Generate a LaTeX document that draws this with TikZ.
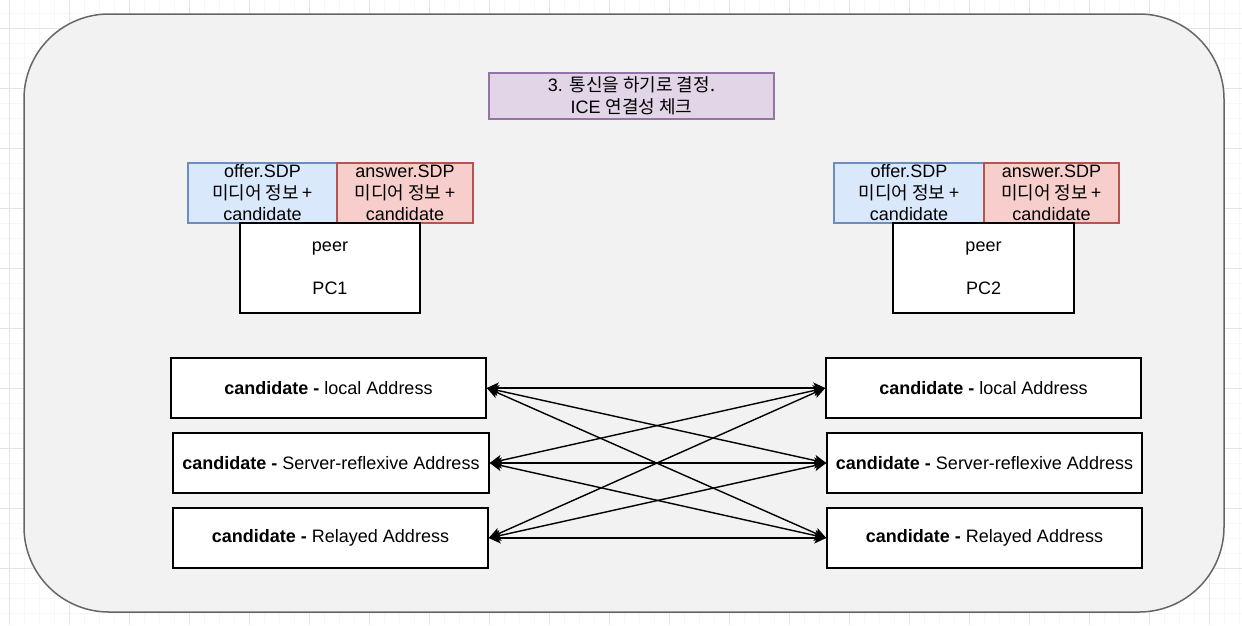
\documentclass[tikz,border=0pt]{standalone}
\usepackage{fontspec}
\setmainfont{Liberation Sans}
\newfontfamily\kr{Noto Sans CJK KR}
\usetikzlibrary{arrows.meta}

\definecolor{panelfill}{HTML}{F2F2F2}
\definecolor{panelline}{HTML}{666666}
\definecolor{notefill}{HTML}{E1D5E7}
\definecolor{noteline}{HTML}{9673A6}
\definecolor{offerfill}{HTML}{DAE8FC}
\definecolor{offerline}{HTML}{6C8EBF}
\definecolor{answerfill}{HTML}{F8CECC}
\definecolor{answerline}{HTML}{B85450}

\tikzset{
  box/.style={rectangle, draw, line width=1.5pt, fill=white, inner sep=0pt, align=center, font=\fontsize{18}{21.5}\selectfont},
  offerbox/.style={box, draw=offerline, fill=offerfill},
  answerbox/.style={box, draw=answerline, fill=answerfill},
  link/.style={line width=1.4pt, {Stealth[length=12pt,width=11pt,inset=3pt]}-{Stealth[length=12pt,width=11pt,inset=3pt]}}
}

\begin{document}
\begin{tikzpicture}[x=1pt, y=-1pt]
\useasboundingbox (0,0) rectangle (1242,625);
\fill[white] (0,0) rectangle (1242,625);

% canvas grid
\foreach \x in {-5.7,9.3,...,1250} \draw[line width=0.8pt, black!3] (\x,0) -- (\x,625);
\foreach \y in {-2,13,...,630} \draw[line width=0.8pt, black!3] (0,\y) -- (1242,\y);
\foreach \x in {9.3,69.3,...,1250} \draw[line width=0.8pt, black!10] (\x,0) -- (\x,625);
\foreach \y in {28,88,...,630} \draw[line width=0.8pt, black!10] (0,\y) -- (1242,\y);

% outer panel
\draw[line width=1.5pt, draw=panelline, fill=panelfill, rounded corners=85pt] (24,14) rectangle (1224,612);

\node at (631.5, 96) [box, draw=noteline, fill=notefill, minimum width=285pt, minimum height=46pt, font=\fontsize{18}{22}\selectfont] (title) {3. {\kr 통신을 하기로 결정.}\\ICE {\kr 연결성 체크}};

% PC1
\node at (262.5, 193) [offerbox, minimum width=149pt, minimum height=60pt] (offer1) {offer.SDP\\{\kr 미디어 정보 +}\\candidate};
\node at (405, 193) [answerbox, minimum width=136pt, minimum height=60pt] (answer1) {answer.SDP\\{\kr 미디어 정보 +}\\candidate};
\node at (330, 268) [box, minimum width=180pt, minimum height=90pt] (pc1) {peer\\[21.5pt]PC1};

% PC2
\node at (909, 193) [offerbox, minimum width=150pt, minimum height=60pt] (offer2) {offer.SDP\\{\kr 미디어 정보 +}\\candidate};
\node at (1051.5, 193) [answerbox, minimum width=135pt, minimum height=60pt] (answer2) {answer.SDP\\{\kr 미디어 정보 +}\\candidate};
\node at (983.5, 268) [box, minimum width=181pt, minimum height=90pt] (pc2) {peer\\[21.5pt]PC2};

% candidates
\node at (328.5, 388) [box, minimum width=315pt, minimum height=60pt] (L1) {\textbf{candidate -} local Address};
\node at (331, 463) [box, minimum width=316pt, minimum height=60pt] (L2) {\textbf{candidate -} Server-reflexive Address};
\node at (330.5, 538) [box, minimum width=315pt, minimum height=60pt] (L3) {\textbf{candidate -} Relayed Address};
\node at (983.5, 388) [box, minimum width=315pt, minimum height=60pt] (R1) {\textbf{candidate -} local Address};
\node at (984.5, 463) [box, minimum width=315pt, minimum height=60pt] (R2) {\textbf{candidate -} Server-reflexive Address};
\node at (984.5, 538) [box, minimum width=315pt, minimum height=60pt] (R3) {\textbf{candidate -} Relayed Address};

% connectivity checks
\foreach \a in {1,2,3}
  \foreach \b in {1,2,3}
    \draw[link] (L\a.east) -- (R\b.west);
\end{tikzpicture}
\end{document}
